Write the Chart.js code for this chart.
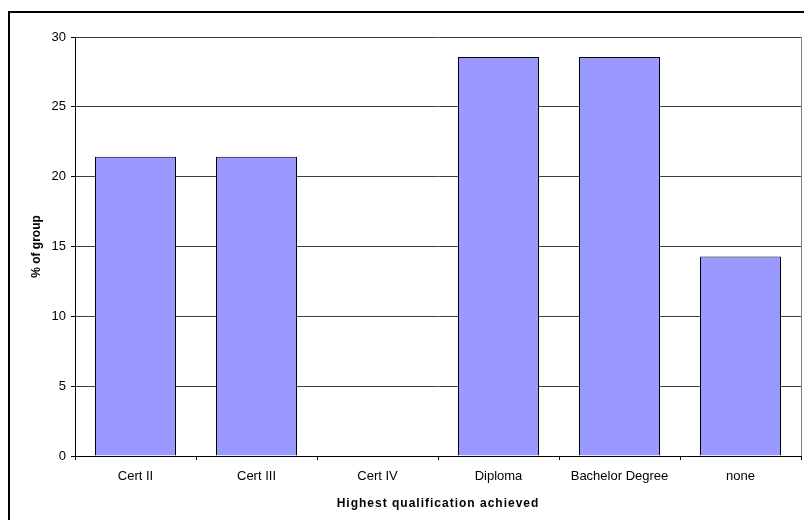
<!DOCTYPE html>
<html>
<head>
<meta charset="utf-8">
<script src="https://cdn.jsdelivr.net/npm/chart.js@4/dist/chart.umd.min.js"></script>
<style>
  html, body { margin: 0; padding: 0; background: #fff; }
  canvas { display: block; }
</style>
</head>
<body>
<canvas id="c" width="804" height="520"></canvas>
<script>
// Share of the group by highest qualification achieved (%)
const categories = ['Cert II', 'Cert III', 'Cert IV', 'Diploma', 'Bachelor Degree', 'none'];
const percentOfGroup = [21.43, 21.43, 0, 28.57, 28.57, 14.29];
const yTicks = [0, 5, 10, 15, 20, 25, 30];

const FONT = "'Liberation Sans', Arial, sans-serif";

// Frame around the whole chart plus the grey right edge of the plot area
const framePlugin = {
  id: 'frame',
  beforeDraw(chart) {
    const ctx = chart.ctx;
    ctx.save();
    ctx.fillStyle = '#fff';
    ctx.fillRect(0, 0, chart.width, chart.height);
    ctx.restore();
    // letter-spaced axis title on the category axis
    const s = chart.scales.x;
    if (s && !s._spacedTitle) {
      const orig = s.drawTitle;
      s.drawTitle = function () {
        const c = this.ctx;
        c.save();
        c.letterSpacing = '1px';
        orig.call(this);
        c.restore();
      };
      s._spacedTitle = true;
    }
  },
  afterDraw(chart) {
    const ctx = chart.ctx;
    const a = chart.chartArea;
    ctx.save();
    ctx.strokeStyle = '#808080';
    ctx.lineWidth = 1;
    ctx.beginPath();
    ctx.moveTo(Math.round(a.right) + 0.5, a.top);
    ctx.lineTo(Math.round(a.right) + 0.5, a.bottom);
    ctx.stroke();
    ctx.strokeStyle = '#000';
    ctx.lineWidth = 2;
    ctx.strokeRect(9, 12, 840, 560);
    ctx.restore();
  }
};

new Chart(document.getElementById('c'), {
  type: 'bar',
  data: {
    labels: categories,
    datasets: [{
      data: percentOfGroup,
      backgroundColor: '#9999FF',
      borderColor: '#000',
      borderWidth: 1,
      barPercentage: 81 / 121,
      categoryPercentage: 1.0
    }]
  },
  options: {
    responsive: false,
    animation: false,
    devicePixelRatio: 1,
    layout: { padding: { top: 37, right: 3, left: 0, bottom: 0 } },
    plugins: {
      legend: { display: false },
      tooltip: { enabled: false }
    },
    scales: {
      x: {
        afterFit(scale) { scale.height = 64; },
        grid: {
          display: true,
          drawOnChartArea: false,
          drawTicks: true,
          tickLength: 4,
          tickColor: '#000'
        },
        border: { color: '#000', width: 1 },
        ticks: {
          color: '#000',
          font: { family: FONT, size: 13 },
          padding: 9,
          maxRotation: 0,
          autoSkip: false
        },
        title: {
          display: true,
          text: 'Highest qualification achieved',
          color: '#000',
          font: { family: FONT, size: 12, weight: 'bold' },
          padding: { top: 0, bottom: 9 }
        }
      },
      y: {
        min: 0,
        max: 30,
        afterFit(scale) { scale.width = 75; },
        afterBuildTicks(scale) { scale.ticks = yTicks.map(v => ({ value: v })); },
        grid: {
          color: '#404040',
          tickColor: '#000',
          tickLength: 4,
          drawTicks: true
        },
        border: { color: '#000', width: 1 },
        ticks: {
          color: '#000',
          font: { family: FONT, size: 13 },
          padding: 5
        },
        title: {
          display: true,
          text: '% of group',
          color: '#000',
          font: { family: FONT, size: 12, weight: 'bold' },
          padding: { top: 29, bottom: 0 }
        }
      }
    }
  },
  plugins: [framePlugin]
});
</script>
</body>
</html>
